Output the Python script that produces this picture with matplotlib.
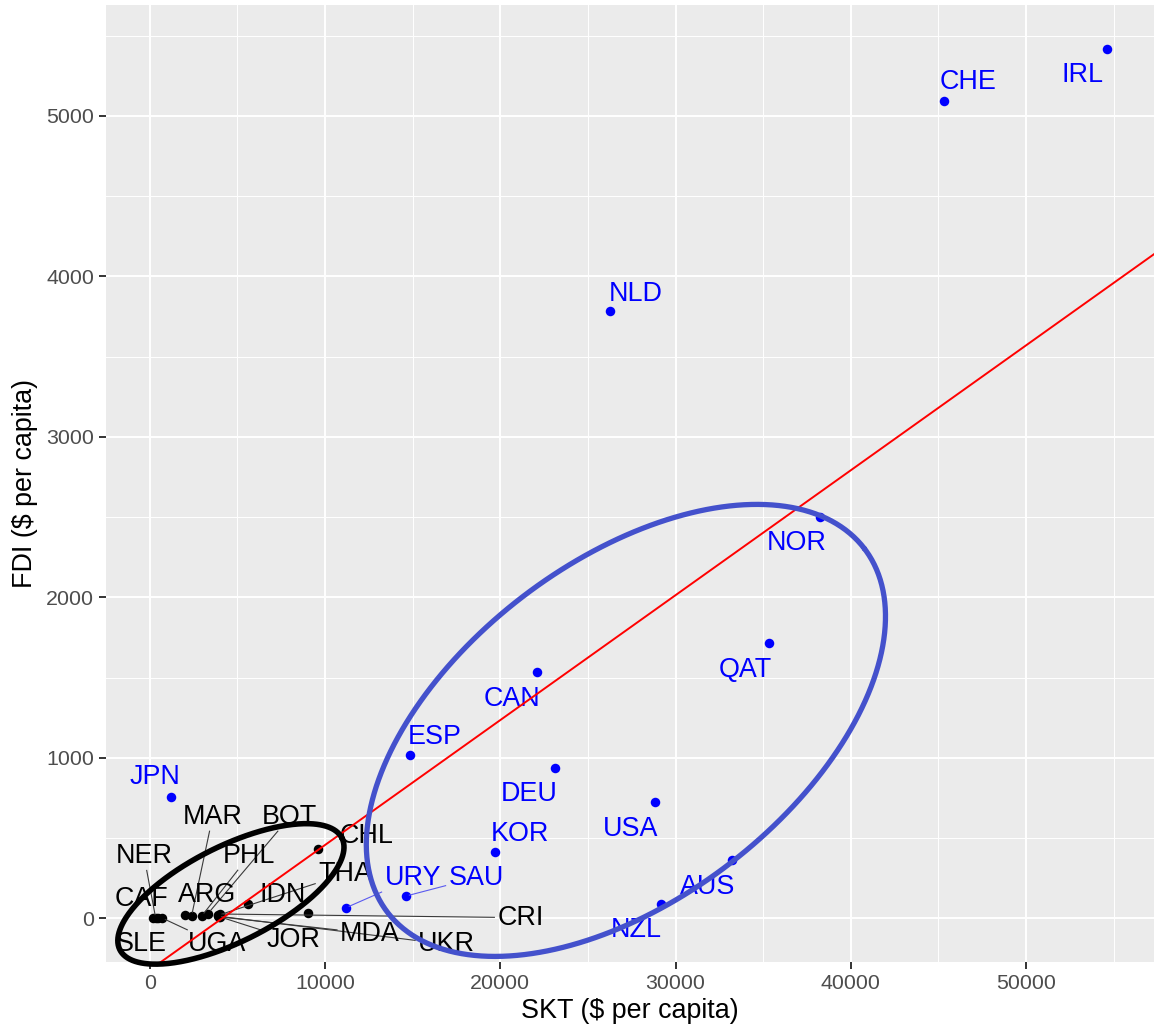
import numpy as np
import matplotlib
matplotlib.use('Agg')
import matplotlib.pyplot as plt

plt.rcParams['font.family'] = ['Liberation Sans', 'DejaVu Sans']

# ---------------- data ----------------
high_names = ['IRL', 'CHE', 'NLD', 'NOR', 'QAT', 'CAN', 'DEU', 'ESP', 'USA',
              'KOR', 'AUS', 'NZL', 'SAU', 'URY', 'JPN']
high_skt = [54590, 45300, 26270, 38250, 35350, 22110, 23120, 14820, 28820,
            19700, 33220, 29190, 14590, 11170, 1200]
high_fdi = [5418, 5094, 3784, 2498, 1716, 1534, 939, 1016, 723,
            416, 362, 92, 139, 66, 756]

low_names = ['CHL', 'IDN', 'CRI', 'THA', 'JOR', 'MDA', 'UKR', 'BOT', 'PHL',
             'MAR', 'ARG', 'UGA', 'SLE', 'NER', 'CAF', '']
low_skt = [9590, 5620, 3980, 3900, 3950, 4000, 3870, 3320, 2950,
           2380, 1990, 680, 450, 340, 170, 9020]
low_fdi = [434, 89, 28, 20, 12, 10, 15, 31, 14,
           14, 21, 4, 2, 0, 3, 34]

fit_intercept = -320
fit_slope = 0.0778

x_ticks = [0, 10000, 20000, 30000, 40000, 50000]
y_ticks = [0, 1000, 2000, 3000, 4000, 5000]
x_title = 'SKT ($ per capita)'
y_title = 'FDI ($ per capita)'

# ---------------- layout ----------------
W, H, DPI = 1154, 1032, 100
# label centre offsets from the point, in pixels (right, down)
label_offsets = {
    'IRL': (-24, 24), 'CHE': (24, -21), 'NLD': (25, -20), 'NOR': (-23.5, 23),
    'QAT': (-24.4, 24), 'USA': (-24, 24), 'AUS': (-24, 24), 'NZL': (-25, 24),
    'DEU': (-25.5, 23.4), 'CAN': (-25, 23.7), 'ESP': (24.8, -21.3),
    'KOR': (25, -20.6), 'SAU': (70.8, -21.2), 'URY': (67.3, -32.2),
    'JPN': (-16.3, -22.7),
    'CHL': (48.4, -15.3), 'IDN': (34.3, -11.7), 'CRI': (301, 1),
    'THA': (127, -44), 'JOR': (74, 21), 'MDA': (150, 14), 'UKR': (229, 25.5),
    'BOT': (81.7, -99), 'PHL': (47.3, -62.7), 'MAR': (21, -101.7),
    'ARG': (22, -22.7), 'UGA': (55.5, 23.3), 'SLE': (-16.7, 23.3),
    'NER': (-11.7, -64.7), 'CAF': (-11, -22),
}
# hand-drawn ellipse annotations, in image pixels (centre x, centre y down, semi-axes, angle)
ellipses = [
    dict(cx=625.9, cy=730.4, a=299.9, b=168.9, angle=37.3, color='#4451CC', lw=3.8),
    dict(cx=230.9, cy=893.9, a=124.3, b=47.7, angle=26.7, color='black', lw=4.0),
]
label_size = 19.4
tick_size = 15.4
title_size = 19.4

fig = plt.figure(figsize=(W / DPI, H / DPI), dpi=DPI)
ax = fig.add_axes([106 / W, (H - 962) / H, (1154 - 106) / W, (962 - 5) / H])
ax.set_facecolor('#EBEBEB')
for s in ax.spines.values():
    s.set_visible(False)
ax.set_xlim(-2500, 57300)
ax.set_ylim(-271, 5690)
ax.set_xticks(x_ticks)
ax.set_yticks(y_ticks)
ax.set_xticks([5000, 15000, 25000, 35000, 45000, 55000], minor=True)
ax.set_yticks([500, 1500, 2500, 3500, 4500, 5500], minor=True)
ax.grid(which='major', color='white', lw=1.4)
ax.grid(which='minor', color='white', lw=0.7)
ax.set_axisbelow(True)
ax.tick_params(which='major', length=5, width=1.4, color='#333333',
               labelsize=tick_size, labelcolor='#4D4D4D', pad=3.5)
ax.tick_params(which='minor', length=0)
ax.set_xlabel(x_title, fontsize=title_size, labelpad=4)
ax.set_ylabel(y_title, fontsize=title_size, labelpad=6)

ax.scatter(low_skt, low_fdi, s=47, color='black', zorder=3, linewidths=0)
ax.scatter(high_skt, high_fdi, s=47, color='#0000FF', zorder=3, linewidths=0)

cap_half = 0.716 * label_size * DPI / 72 / 2
texts = []
for names, xs, ys, col, segcol in [(high_names, high_skt, high_fdi, '#0000FF', '#5A5AF0'),
                                   (low_names, low_skt, low_fdi, 'black', '#3A3A3A')]:
    for n, x, y in zip(names, xs, ys):
        if not n:
            continue
        dx, dy = label_offsets[n]
        t = ax.annotate(n, (x, y), xytext=(dx, -dy - cap_half), textcoords='offset pixels',
                        ha='center', va='baseline', fontsize=label_size, color=col, zorder=4)
        texts.append((t, x, y, segcol))

fig.canvas.draw()
renderer = fig.canvas.get_renderer()
inv = ax.transData.inverted()
for t, x, y, segcol in texts:
    bb = t.get_window_extent(renderer)
    px, py = ax.transData.transform((x, y))
    ddx = max(bb.x0 - px, 0, px - bb.x1)
    ddy = max(bb.y0 - py, 0, py - bb.y1)
    if np.hypot(ddx, ddy) < 26:
        continue
    cx, cy = (bb.x0 + bb.x1) / 2, (bb.y0 + bb.y1) / 2
    vx, vy = px - cx, py - cy
    hw, hh = bb.width / 2 + 3, bb.height / 2 + 1
    s = min(hw / abs(vx) if vx else np.inf, hh / abs(vy) if vy else np.inf)
    sx, sy = cx + vx * s, cy + vy * s
    L = np.hypot(px - sx, py - sy)
    ex, ey = px - (px - sx) / L * 4, py - (py - sy) / L * 4
    (a0, b0), (a1, b1) = inv.transform([(sx, sy), (ex, ey)])
    ax.plot([a0, a1], [b0, b1], color=segcol, lw=0.8, zorder=3.5, clip_on=False)

xx = np.array(ax.get_xlim())
ax.plot(xx, fit_intercept + fit_slope * xx, color='red', lw=1.4, zorder=5)
ax.set_xlim(-2500, 57300)

tt = np.linspace(0, 2 * np.pi, 400)
for e in ellipses:
    th = np.radians(e['angle'])
    X = e['cx'] + e['a'] * np.cos(th) * np.cos(tt) - e['b'] * np.sin(th) * np.sin(tt)
    Y = (H - e['cy']) + e['a'] * np.sin(th) * np.cos(tt) + e['b'] * np.cos(th) * np.sin(tt)
    dat = inv.transform(np.column_stack([X, Y]))
    ax.plot(dat[:, 0], dat[:, 1], color=e['color'], lw=e['lw'], zorder=6, clip_on=False,
            solid_capstyle='round')

fig.savefig('out.png', dpi=DPI)
